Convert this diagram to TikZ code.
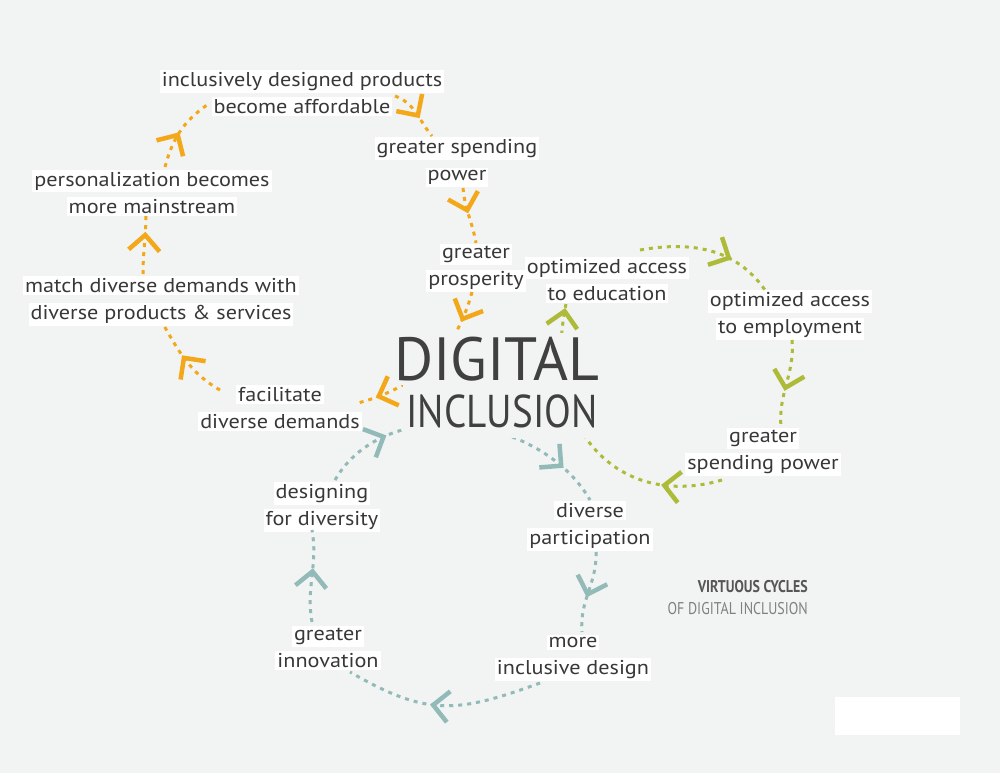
\documentclass[tikz,border=0pt]{standalone}
\usepackage{fontspec}
\setmainfont{PT Sans}
\usetikzlibrary{decorations.markings}
\definecolor{bg}{HTML}{F2F3F3}
\definecolor{cor}{HTML}{F3A81A}
\definecolor{cgr}{HTML}{AEBB38}
\definecolor{cte}{HTML}{92BAB8}
\definecolor{ctext}{HTML}{383838}
\definecolor{ctitle}{HTML}{404040}
\newcommand\wb[1]{{\setlength{\fboxsep}{2pt}\colorbox{white}{\scalebox{1.11}[1]{#1}}}}
\begin{document}
\begin{tikzpicture}[x=1pt,y=1pt,
  lbl/.style={align=center, text=ctext, inner sep=0pt, font=\fontsize{20}{27}\selectfont},
  dots/.style={line width=3pt, line cap=butt, dash pattern=on 4pt off 5pt},
  cm/.style 2 args={postaction={decorate, decoration={markings, mark=at position #1 with {\draw[#2, solid, line width=4.5pt, line cap=butt, line join=miter] (-15.5,15.5) -- (0,0) -- (-15.5,-15.5);}}}},
  ttl/.style={fill=bg, text=ctitle, inner xsep=4pt, anchor=base}
]
\useasboundingbox (0,-773) rectangle (1000,0);
\fill[bg] (0,-773) rectangle (1000,0);
\fill[white] (835,-697) rectangle (960,-735);

% labels
\node[lbl] (A) at (302,-93) {\wb{inclusively designed products}\\\wb{become affordable}};
\node[lbl] (B) at (457,-162) {\wb{greater spending}\\\wb{power}};
\node[lbl] (C) at (476,-268) {\wb{greater}\\\wb{prosperity}};
\node[lbl] (D) at (280,-408) {\wb{facilitate}\\\wb{diverse demands}};
\node[lbl] (E) at (161,-301) {\wb{match diverse demands with}\\\wb{diverse products \& services}};
\node[lbl] (F) at (152,-193) {\wb{personalization becomes}\\\wb{more mainstream}};
\node[lbl] (G) at (607,-280) {\wb{optimized access}\\\wb{to education}};
\node[lbl] (H) at (790,-315) {\wb{optimized access}\\\wb{to employment}};
\node[lbl] (I) at (763,-452) {\wb{greater}\\\wb{spending power}};
\node[lbl] (J) at (590,-526) {\wb{diverse}\\\wb{participation}};
\node[lbl] (K) at (573,-658) {\wb{more}\\\wb{inclusive design}};
\node[lbl] (L) at (328,-648) {\wb{greater}\\\wb{innovation}};
\node[lbl] (M) at (322,-507) {\wb{designing}\\\wb{for diversity}};

% orange cycle
\draw[dots, cor, cm={0.55}{cor}] ([shift={(93,-3)}]A.center) to[out=-20,in=130] ([shift={(-25,26)}]B.center);
\draw[dots, cor, cm={0.4}{cor}] ([shift={(6,-26)}]B.center) to[out=-85,in=100] ([shift={(0,25)}]C.center);
\draw[dots, cor, cm={0.17}{cor}, cm={0.87}{cor}] ([shift={(-4,-24)}]C.center) to[out=-105,in=15] ([shift={(78,5)}]D.center);
\draw[dots, cor, cm={0.55}{cor}] ([shift={(-60,18)}]D.center) to[out=150,in=-60] ([shift={(2,-23)}]E.center);
\draw[dots, cor, cm={0.65}{cor}] ([shift={(-18,27)}]E.center) to[out=90,in=-90] ([shift={(-6,-21)}]F.center);
\draw[dots, cor, cm={0.45}{cor}] ([shift={(13,26)}]F.center) to[out=75,in=-145] ([shift={(-95,-12)}]A.center);

% green cycle
\draw[dots, cgr, cm={0.65}{cgr}] ([shift={(33,30)}]G.center) to[out=10,in=125] ([shift={(-25,25)}]H.center);
\draw[dots, cgr, cm={0.55}{cgr}] ([shift={(2,-25)}]H.center) to[out=-85,in=95] ([shift={(18,25)}]I.center);
\draw[dots, cgr, cm={0.2}{cgr}, cm={0.975}{cgr}] ([shift={(-41,-28)}]I.center) .. controls (620,-510) and (540,-430) .. ([shift={(-41,-24)}]G.center);

% teal cycle
\draw[dots, cte, cm={0.53}{cte}] ([shift={(6,-26)}]J.center) to[out=-88,in=95] ([shift={(9,26)}]K.center);
\draw[dots, cte, cm={0.55}{cte}] ([shift={(-33,-25)}]K.center) to[out=-160,in=-30,looseness=1.2] ([shift={(22,-24)}]L.center);
\draw[dots, cte, cm={0.55}{cte}] ([shift={(-16,26)}]L.center) to[out=100,in=-80] ([shift={(-10,-23)}]M.center);
\draw[dots, cte, cm={0.22}{cte}, cm={0.85}{cte}] ([shift={(13,27)}]M.center) to[out=60,in=120] ([shift={(0,26)}]J.center);

% title
\node[ttl, inner ysep=4pt, font=\fontsize{61}{61}\selectfont] (T1) at (497,-380) {\scalebox{0.98}[1]{DIGITAL}};
\node[ttl, inner ysep=10pt, font=\fontsize{46}{46}\selectfont] (T2) at (502,-427) {\scalebox{0.85}[1]{INCLUSION}};

% caption
\node[anchor=base east, inner sep=0pt, text=ctext!85, font=\bfseries\fontsize{17}{17}\selectfont] (V1) at (808,-592) {\scalebox{0.82}[1]{VIRTUOUS CYCLES}};
\node[anchor=base east, inner sep=0pt, text=black!50, font=\fontsize{17}{17}\selectfont] (V2) at (808,-614) {\scalebox{0.82}[1]{OF DIGITAL INCLUSION}};
\end{tikzpicture}
\end{document}
